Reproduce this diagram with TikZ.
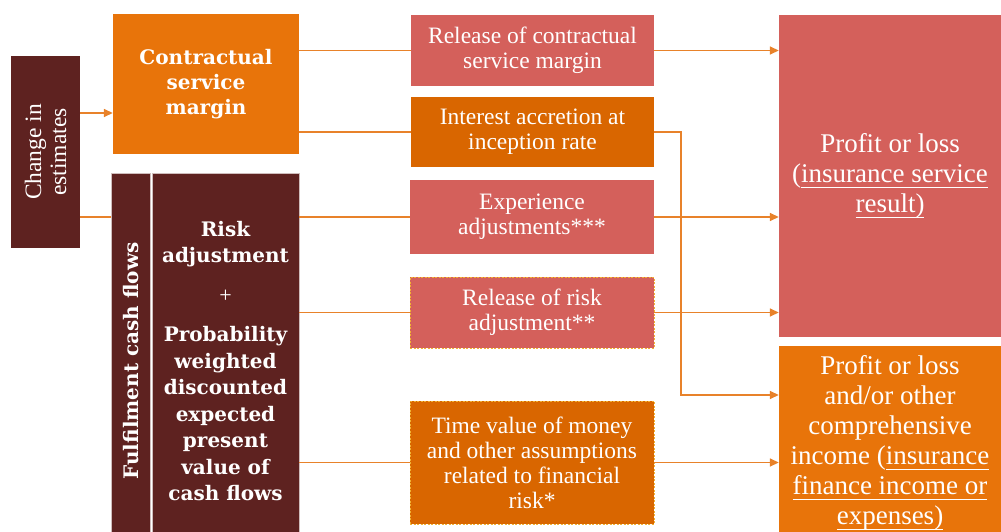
\documentclass[tikz,border=0pt]{standalone}
\usepackage{fontspec}
\setmainfont{Liberation Serif}
\newfontfamily\heavy{DejaVu Serif}
\usetikzlibrary{arrows.meta}
\definecolor{dbrown}{HTML}{5E2220}
\definecolor{csmor}{HTML}{E8740A}
\definecolor{dor}{HTML}{D96600}
\definecolor{salmon}{HTML}{D4605B}
\definecolor{lineor}{HTML}{E8822A}
\definecolor{dashy}{HTML}{F2B233}
\newcommand\ulx[1]{\leavevmode\setbox0=\hbox{#1}\rlap{\rule[-5pt]{\wd0}{1.1pt}}\box0}
\tikzset{
  box/.style={rectangle, inner sep=0pt, text=white, align=center,
    font=\fontsize{23.5}{25}\selectfont},
  salmonbox/.style={box, fill=salmon},
  dorbox/.style={box, fill=dor},
  dashbox/.style={draw=dashy, line width=0.8pt, dash pattern=on 2pt off 1.5pt},
  brownbox/.style={box, fill=dbrown, draw=white!70!dbrown, line width=0.8pt},
  heavytext/.style={font=\heavy\bfseries\fontsize{20}{25}\selectfont},
  bigtext/.style={font=\fontsize{27}{30}\selectfont},
  conn/.style={draw=lineor, line width=1.5pt},
  arr/.style={conn, -{Triangle[length=9pt,width=8pt]}},
}
\begin{document}
\begin{tikzpicture}[x=1pt,y=-1pt]
\useasboundingbox (0,0) rectangle (1001,532);
% left column
\node[box, fill=dbrown, rotate=90, minimum width=192pt, minimum height=69pt]
  (chg) at (45.5,152) {Change in\\estimates};
\node[box, fill=csmor, heavytext, minimum width=186pt, minimum height=140pt]
  (csm) at (206,84) {Contractual\\service\\margin};
\node[brownbox, heavytext, rotate=90, minimum width=376pt, minimum height=39.5pt]
  (ffc) at (130.75,361) {Fulfilment cash flows};
\node[brownbox, font=\heavy\bfseries\fontsize{20}{26.5}\selectfont, minimum width=147pt, minimum height=376pt]
  (ffi) at (225.5,361) {Risk\\adjustment\\[13pt]{\normalfont\fontsize{22}{26.5}\selectfont +}\\[13pt]Probability\\weighted\\discounted\\expected\\present\\value of\\cash flows};
% middle column
\node[salmonbox, minimum width=243pt, minimum height=71pt]
  (rcsm) at (532.5,50.5) {Release of contractual\\service margin};
\node[dorbox, minimum width=243pt, minimum height=70pt]
  (intr) at (532.5,132) {Interest accretion at\\inception rate};
\node[salmonbox, minimum width=244pt, minimum height=74pt]
  (exp) at (532,217) {Experience\\adjustments***};
\node[salmonbox, dashbox, minimum width=244pt, minimum height=71pt]
  (rra) at (532,312.5) {Release of risk\\adjustment**};
\node[dorbox, dashbox, minimum width=244pt, minimum height=123pt]
  (tvm) at (532,462.5) {Time value of money\\and other assumptions\\related to financial\\risk*};
% right column
\node[salmonbox, bigtext, minimum width=222pt, minimum height=322pt]
  (pl) at (890,176) {Profit or loss\\(\ulx{insurance service}\\\ulx{result)}};
\node[box, fill=csmor, bigtext, minimum width=222pt, minimum height=194pt]
  (oci) at (890,443) {Profit or loss\\and/or other\\comprehensive\\income (\ulx{insurance}\\\ulx{finance income or}\\\ulx{expenses)}};
% connectors
\draw[arr] ([yshift=39pt]chg.south) -- ([yshift=39pt]chg.south -| csm.west);
\draw[conn] ([yshift=-65pt]chg.south) -- ([yshift=-65pt]chg.south -| ffc.north);
\draw[conn] (csm.east |- rcsm.west) -- (rcsm.west);
\draw[arr] (rcsm.east) -- (pl.west |- rcsm.east);
\draw[conn] (csm.east |- intr.west) -- (intr.west);
\draw[arr] (intr.east) -- ++(27,0) |- ([yshift=48pt]oci.west);
\draw[conn] (ffi.east |- exp.west) -- (exp.west);
\draw[arr] (exp.east) -- (pl.west |- exp.east);
\draw[conn] (ffi.east |- rra.west) -- (rra.west);
\draw[arr] (rra.east) -- (pl.west |- rra.east);
\draw[conn] (ffi.east |- tvm.west) -- (tvm.west);
\draw[arr] (tvm.east) -- (oci.west |- tvm.east);
\end{tikzpicture}
\end{document}
